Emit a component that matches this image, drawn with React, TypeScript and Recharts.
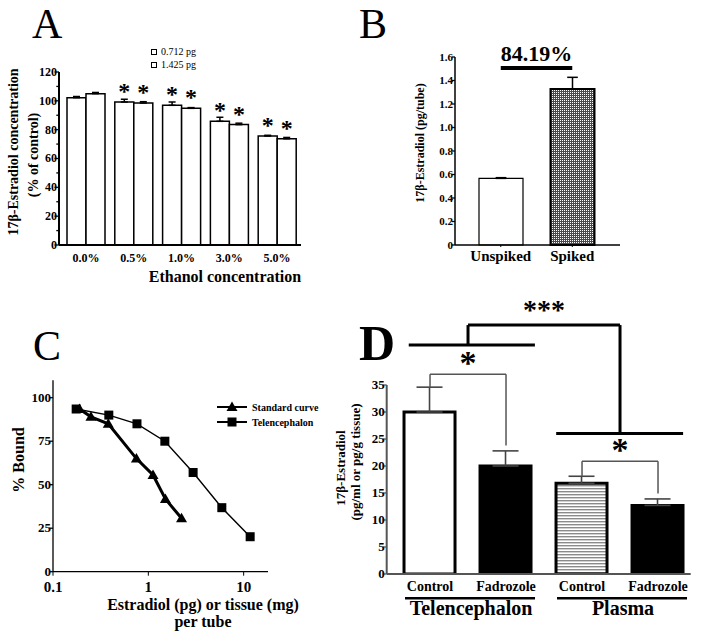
import React from "react";
import {
  BarChart,
  Bar,
  LineChart,
  Line,
  XAxis,
  YAxis,
  ErrorBar,
  Cell,
  LabelList,
  ReferenceLine,
  ReferenceDot,
} from "recharts";

const serif = '"Liberation Serif", "Times New Roman", Times, serif';

// A - ethanol concentration, % of control
const ethanolLevels = ["0.0%", "0.5%", "1.0%", "3.0%", "5.0%"];
const dose712 = [102.2, 99.2, 96.9, 85.8, 75.6];
const dose712Err = [0.8, 1.9, 2.3, 2.8, 0.5];
const dose1425 = [105, 98.5, 94.8, 83.5, 73.7];
const dose1425Err = [0.8, 0.9, 0.5, 1, 0.9];
const ethanolSig = ["", "*", "*", "*", "*"];
const doseNames = ["0.712 pg", "1.425 pg"];
const aTicks = [0, 10, 20, 30, 40, 50, 60, 70, 80, 90, 100, 110, 120];

// B - spike recovery
const spikeGroups = ["Unspiked", "Spiked"];
const spikeMeans = [0.567, 1.327];
const spikeErr = [0.006, 0.1];
const spikeRecovery = "84.19%";
const bTicks = [0, 0.2, 0.4, 0.6, 0.8, 1.0, 1.2, 1.4, 1.6];

// C - parallelism
const stdDose = [0.19, 0.25, 0.38, 0.75, 1.12, 1.51, 2.23];
const stdBound = [93.5, 89, 85, 65, 55.6, 41.8, 30.7];
const telDose = [0.175, 0.385, 0.76, 1.49, 2.95, 5.9, 11.7];
const telBound = [93.5, 90, 85, 75, 57, 36.8, 20.1];
const cTicksX = [0.1, 1, 10];
const cTicksY = [0, 25, 50, 75, 100];

// D - fadrozole
const dConditions = ["Control", "Fadrozole", "Control", "Fadrozole"];
const dTissues = ["Telencephalon", "Telencephalon", "Plasma", "Plasma"];
const dMeans = [30, 20, 16.8, 12.7];
const dErr = [4.6, 2.8, 1.3, 1.2];
const dTicks = [0, 5, 10, 15, 20, 25, 30, 35];

const aData = ethanolLevels.map((level, i) => ({
  level,
  low: dose712[i],
  lowErr: [0, dose712Err[i]],
  high: dose1425[i],
  highErr: [0, dose1425Err[i]],
  sig: ethanolSig[i],
}));

const bData = spikeGroups.map((group, i) => ({ group, value: spikeMeans[i], err: [0, spikeErr[i]] }));

const stdData = stdDose.map((x, i) => ({ x, y: stdBound[i] }));
const telData = telDose.map((x, i) => ({ x, y: telBound[i] }));

const dData = dConditions.map((condition, i) => ({
  pos: i + 0.5,
  condition,
  tissue: dTissues[i],
  value: dMeans[i],
  err: [0, dErr[i]],
}));
const dFills = ["#fff", "#000", "url(#hstripe)", "#000"];

const bold = { fontFamily: serif, fontWeight: "bold" as const, fill: "#000" };

function Letter({ ch, left, top, size = 42, weight = "normal" }: any) {
  return (
    <div
      style={{ position: "absolute", left, top, fontFamily: serif, fontSize: size, fontWeight: weight, lineHeight: 1 }}
    >
      {ch}
    </div>
  );
}

function RotLabel({ cx, cy, lines, size }: any) {
  return (
    <g>
      {lines.map((t: string, i: number) => (
        <text
          key={t}
          x={cx[i]}
          y={cy[i]}
          transform={`rotate(-90, ${cx[i]}, ${cy[i]})`}
          textAnchor="middle"
          fontSize={size}
          {...bold}
        >
          {t}
        </text>
      ))}
    </g>
  );
}

const leftTick = (len: number, size: number, fmt: (v: number) => string, show = (v: number) => true, color = "#000") =>
  (props: any) => {
    const { x, y, payload } = props;
    const v = payload.value;
    const major = show(v);
    return (
      <g>
        <line x1={x} x2={x - (major ? len : len * 0.6)} y1={y} y2={y} stroke={color} strokeWidth={1.3} />
        {major && (
          <text x={x - 2} y={y + size * 0.33} textAnchor="end" fontSize={size} {...bold}>
            {fmt(v)}
          </text>
        )}
      </g>
    );
  };

function PanelA() {
  const star = (props: any) => {
    const { x, y, width, value } = props;
    if (!value) return null;
    return (
      <text x={x + width / 2} y={y - 3} textAnchor="middle" fontSize={24} {...bold}>
        {value}
      </text>
    );
  };
  return (
    <div style={{ position: "absolute", left: 0, top: 0 }}>
      <BarChart
        width={340}
        height={300}
        data={aData}
        margin={{ top: 72, right: 39, bottom: 35, left: 14 }}
        barGap={0}
        barSize={19}
      >
        <XAxis
          dataKey="level"
          height={20}
          padding={{ left: 3, right: 0 }}
          axisLine={{ stroke: "#000", strokeWidth: 2 }}
          tickLine={false}
          tickSize={0}
          tickMargin={8.5}
          tick={{ fontSize: 12, ...bold }}
          label={(p: any) => (
            <text x={p.viewBox.x + p.viewBox.width / 2 + 45} y={p.viewBox.y + 36.7} textAnchor="middle" fontSize={16} {...bold}>
              Ethanol concentration
            </text>
          )}
        />
        <YAxis
          width={45}
          domain={[0, 120]}
          ticks={aTicks}
          interval={0}
          axisLine={{ stroke: "#000", strokeWidth: 2 }}
          tickLine={false}
          tickSize={0}
          tickMargin={0}
          tick={leftTick(4.5, 12, (v) => String(v), (v) => v % 20 === 0)}
          label={() => (
            <RotLabel cx={[18, 38]} cy={[152, 155]} lines={["17\u03b2-Estradiol concentration", "(% of control)"]} size={14} />
          )}
        />
        <Bar dataKey="low" fill="#fff" stroke="#000" strokeWidth={1.5} isAnimationActive={false}>
          <ErrorBar dataKey="lowErr" width={3.5} stroke="#000" strokeWidth={1.5} />
          <LabelList dataKey="sig" content={star} />
        </Bar>
        <Bar dataKey="high" fill="#fff" stroke="#000" strokeWidth={1.5} isAnimationActive={false}>
          <ErrorBar dataKey="highErr" width={3.5} stroke="#000" strokeWidth={1.5} />
          <LabelList dataKey="sig" content={star} />
        </Bar>
      </BarChart>
      {doseNames.map((n, i) => (
        <div
          key={n}
          style={{ position: "absolute", left: 151, top: 46 + i * 13, display: "flex", alignItems: "center", fontFamily: serif, fontSize: 10 }}
        >
          <span style={{ width: 4, height: 4, border: "1.3px solid #000", marginRight: 4, display: "inline-block" }} />
          {n}
        </div>
      ))}
    </div>
  );
}

function PanelB() {
  return (
    <div style={{ position: "absolute", left: 340, top: 0 }}>
      <BarChart width={364} height={300} data={bData} margin={{ top: 57, right: 84, bottom: 30, left: 40 }} barSize={44}>
        <XAxis
          dataKey="group"
          height={25}
          padding={{ left: 10, right: 12 }}
          axisLine={{ stroke: "#000", strokeWidth: 1.5 }}
          tickLine={{ stroke: "#000" }}
          tickSize={2}
          tickMargin={3.4}
          tick={{ fontSize: 15, ...bold }}
        />
        <YAxis
          width={75}
          domain={[0, 1.6]}
          ticks={bTicks}
          interval={0}
          axisLine={{ stroke: "#000", strokeWidth: 1.5 }}
          tickLine={false}
          tickSize={0}
          tickMargin={0}
          tick={leftTick(3, 11, (v) => (v === 0 ? "0" : v.toFixed(1)))}
          label={() => <RotLabel cx={[84]} cy={[143]} lines={["17\u03b2-Estradiol (pg/tube)"]} size={12} />}
        />
        <Bar dataKey="value" stroke="#000" strokeWidth={2} isAnimationActive={false}>
          {bData.map((d, i) => (
            <Cell key={d.group} fill={i === 0 ? "#fff" : "url(#checker)"} strokeWidth={i === 0 ? 1.2 : 2} />
          ))}
          <ErrorBar dataKey="err" width={5.3} stroke="#000" strokeWidth={1.5} />
        </Bar>
        <ReferenceLine
          segment={[
            { x: spikeGroups[0], y: 1.506 },
            { x: spikeGroups[1], y: 1.506 },
          ]}
          stroke="#000"
          strokeWidth={4}
          ifOverflow="visible"
          label={(p: any) => (
            <text x={p.viewBox.x + p.viewBox.width / 2} y={p.viewBox.y - 7} textAnchor="middle" fontSize={22} {...bold}>
              {spikeRecovery}
            </text>
          )}
        />
      </BarChart>
    </div>
  );
}

const triangleDot = (p: any) =>
  p.cx == null ? null : (
    <path
      key={`t${p.index}`}
      d={`M${p.cx},${p.cy - 5.5}L${p.cx + 5.5},${p.cy + 4}L${p.cx - 5.5},${p.cy + 4}Z`}
      fill="#000"
    />
  );
const squareDot = (p: any) =>
  p.cx == null ? null : <rect key={`s${p.index}`} x={p.cx - 4.5} y={p.cy - 4.5} width={9} height={9} fill="#000" />;

const cSeries = [
  { name: "Standard curve", data: stdData, width: 3, dot: triangleDot },
  { name: "Telencephalon", data: telData, width: 1.4, dot: squareDot },
];

function PanelC() {
  return (
    <div style={{ position: "absolute", left: 0, top: 300 }}>
      <LineChart width={320} height={342} margin={{ top: 80.3, right: 52, bottom: 45.3, left: 13 }}>
        <XAxis
          type="number"
          dataKey="x"
          scale="log"
          domain={[0.1, 18]}
          allowDataOverflow
          ticks={cTicksX}
          interval={0}
          height={25}
          axisLine={{ stroke: "#000", strokeWidth: 1.3 }}
          tickLine={{ stroke: "#000" }}
          tickSize={4}
          tickMargin={6}
          tickFormatter={(v: number) => String(v)}
          tick={{ fontSize: 15, ...bold }}
          label={(p: any) => (
            <text textAnchor="middle" fontSize={16} {...bold}>
              <tspan x={p.viewBox.x + p.viewBox.width / 2 + 42.5} y={p.viewBox.y + 38.5}>
                Estradiol (pg) or tissue (mg)
              </tspan>
              <tspan x={p.viewBox.x + p.viewBox.width / 2 + 42.5} y={p.viewBox.y + 55.5}>
                per tube
              </tspan>
            </text>
          )}
        />
        <YAxis
          type="number"
          width={40}
          domain={[0, 110]}
          allowDataOverflow
          ticks={cTicksY}
          interval={0}
          axisLine={{ stroke: "#000", strokeWidth: 1.3 }}
          tickLine={false}
          tickSize={0}
          tickMargin={0}
          tick={leftTick(4, 13, (v) => String(v))}
          label={() => <RotLabel cx={[23.5]} cy={[160]} lines={["% Bound"]} size={16} />}
        />
        {cSeries.map((s) => (
          <Line
            key={s.name}
            data={s.data}
            dataKey="y"
            name={s.name}
            type="linear"
            stroke="#000"
            strokeWidth={s.width}
            dot={s.dot}
            activeDot={false}
            isAnimationActive={false}
          />
        ))}
      </LineChart>
      {cSeries.map((s, i) => (
        <div
          key={s.name}
          style={{ position: "absolute", left: 217, top: 100 + i * 15, display: "flex", alignItems: "center", height: 14 }}
        >
          <svg width={32} height={14}>
            <line x1={0} x2={30} y1={7} y2={7} stroke="#000" strokeWidth={2} />
            {s.dot({ cx: 15, cy: 7, index: i })}
          </svg>
          <span style={{ fontFamily: serif, fontWeight: "bold", fontSize: 10, marginLeft: 3 }}>{s.name}</span>
        </div>
      ))}
    </div>
  );
}

const D_STEP = 76;

const dTick = (props: any) => {
  const { x, y, payload } = props;
  const i = dData.findIndex((d) => d.pos === payload.value);
  if (i < 0) return null;
  const row = dData[i];
  const first = i === 0 || dData[i - 1].tissue !== row.tissue;
  const span = dData.filter((d) => d.tissue === row.tissue).length;
  return (
    <g>
      <text x={x} y={y + 16.7} textAnchor="middle" fontSize={14} {...bold}>
        {row.condition}
      </text>
      {first && (
        <g>
          <line x1={x - 25} x2={x + (span - 1) * D_STEP + 29} y1={y + 24.3} y2={y + 24.3} stroke="#000" strokeWidth={2.5} />
          <text x={x + ((span - 1) * D_STEP) / 2 + 3} y={y + 41} textAnchor="middle" fontSize={20} {...bold}>
            {row.tissue}
          </text>
        </g>
      )}
    </g>
  );
};

const starAt = (text: string, size: number) => (p: any) => (
  <text
    x={p.viewBox.x + p.viewBox.width / 2}
    y={p.viewBox.y + p.viewBox.height / 2 + size * 0.48}
    textAnchor="middle"
    fontSize={size}
    {...bold}
  >
    {text}
  </text>
);

// pairwise brackets (bar index a vs b) and the tissue comparison
const pairBrackets = [
  { a: 0, b: 1, y: 37, starY: 40 },
  { a: 2, b: 3, y: 20.9, starY: 23.9 },
];
const groupLines = [
  { from: 0.22, to: 1.88, y: 42.4, center: 1 },
  { from: 2.16, to: 3.83, y: 26, center: 3 },
];
const tissueLinkY = 46.1;

function PanelD() {
  const thin = { stroke: "#555", strokeWidth: 1.5, ifOverflow: "visible" as const };
  const thick = { stroke: "#000", strokeWidth: 3, ifOverflow: "visible" as const };
  return (
    <div style={{ position: "absolute", left: 320, top: 290 }}>
      <BarChart width={384} height={352} data={dData} margin={{ top: 95, right: 13.3, bottom: 38, left: 26.7 }} barSize={51}>
        <XAxis
          type="number"
          dataKey="pos"
          domain={[-0.07, 3.93]}
          allowDataOverflow
          ticks={dData.map((d) => d.pos)}
          interval={0}
          height={30}
          axisLine={{ stroke: "#555", strokeWidth: 2 }}
          tickLine={false}
          tickSize={0}
          tickMargin={0}
          tick={dTick}
        />
        <YAxis
          width={40}
          domain={[0, 35]}
          allowDataOverflow
          ticks={dTicks}
          interval={0}
          axisLine={{ stroke: "#555", strokeWidth: 2 }}
          tickLine={false}
          tickSize={0}
          tickMargin={0}
          tick={leftTick(4, 13, (v) => String(v), () => true, "#555")}
          label={() => (
            <RotLabel cx={[24.5, 39.5]} cy={[178, 172]} lines={["17\u03b2-Estradiol", "(pg/ml or pg/g tissue)"]} size={13} />
          )}
        />
        <Bar dataKey="value" isAnimationActive={false}>
          {dData.map((d, i) => (
            <Cell key={i} fill={dFills[i]} stroke="#000" strokeWidth={3} />
          ))}
          <ErrorBar dataKey="err" width={13} stroke="#444" strokeWidth={1.6} />
        </Bar>
        {pairBrackets.map((b) => [
          <ReferenceLine
            key={`l${b.a}`}
            segment={[
              { x: dData[b.a].pos, y: dMeans[b.a] + dErr[b.a] },
              { x: dData[b.a].pos, y: b.y },
            ]}
            {...thin}
          />,
          <ReferenceLine
            key={`h${b.a}`}
            segment={[
              { x: dData[b.a].pos, y: b.y },
              { x: dData[b.b].pos, y: b.y },
            ]}
            {...thin}
          />,
          <ReferenceLine
            key={`r${b.a}`}
            segment={[
              { x: dData[b.b].pos, y: dMeans[b.b] + dErr[b.b] + 1 },
              { x: dData[b.b].pos, y: b.y },
            ]}
            {...thin}
          />,
          <ReferenceDot
            key={`s${b.a}`}
            x={(dData[b.a].pos + dData[b.b].pos) / 2}
            y={b.starY}
            r={0}
            fill="none"
            stroke="none"
            ifOverflow="visible"
            label={starAt("*", 34)}
          />,
        ])}
        {groupLines.map((g) => (
          <ReferenceLine
            key={`g${g.center}`}
            segment={[
              { x: g.from, y: g.y },
              { x: g.to, y: g.y },
            ]}
            {...thick}
          />
        ))}
        <ReferenceLine
          segment={[
            { x: groupLines[0].center, y: groupLines[0].y },
            { x: groupLines[0].center, y: tissueLinkY },
          ]}
          {...thick}
        />
        <ReferenceLine
          segment={[
            { x: groupLines[0].center, y: tissueLinkY },
            { x: groupLines[1].center, y: tissueLinkY },
          ]}
          {...thick}
        />
        <ReferenceLine
          segment={[
            { x: groupLines[1].center, y: tissueLinkY },
            { x: groupLines[1].center, y: groupLines[1].y },
          ]}
          {...thick}
        />
        <ReferenceDot
          x={(groupLines[0].center + groupLines[1].center) / 2}
          y={49.8}
          r={0}
          fill="none"
          stroke="none"
          ifOverflow="visible"
          label={starAt("***", 28)}
        />
      </BarChart>
    </div>
  );
}

export default function App() {
  return (
    <div
      style={{
        position: "absolute",
        left: 0,
        top: 0,
        width: 704,
        height: 642,
        background: "#fff",
        overflow: "hidden",
      }}
    >
      <svg width={0} height={0} style={{ position: "absolute" }}>
        <defs>
          <pattern id="checker" width={2} height={2} patternUnits="userSpaceOnUse">
            <rect width={2} height={2} fill="#4a4a4a" />
            <rect width={1} height={1} fill="#fff" />
          </pattern>
          <pattern id="hstripe" width={4} height={3} patternUnits="userSpaceOnUse">
            <rect width={4} height={3} fill="#fff" />
            <rect width={4} height={1.4} fill="#8a8a8a" />
          </pattern>
        </defs>
      </svg>
      <PanelA />
      <PanelB />
      <PanelC />
      <PanelD />
      <Letter ch="A" left={32} top={2.6} />
      <Letter ch="B" left={359} top={2.6} />
      <Letter ch="C" left={33} top={324.6} />
      <Letter ch="D" left={359} top={318} size={50} weight="bold" />
    </div>
  );
}
